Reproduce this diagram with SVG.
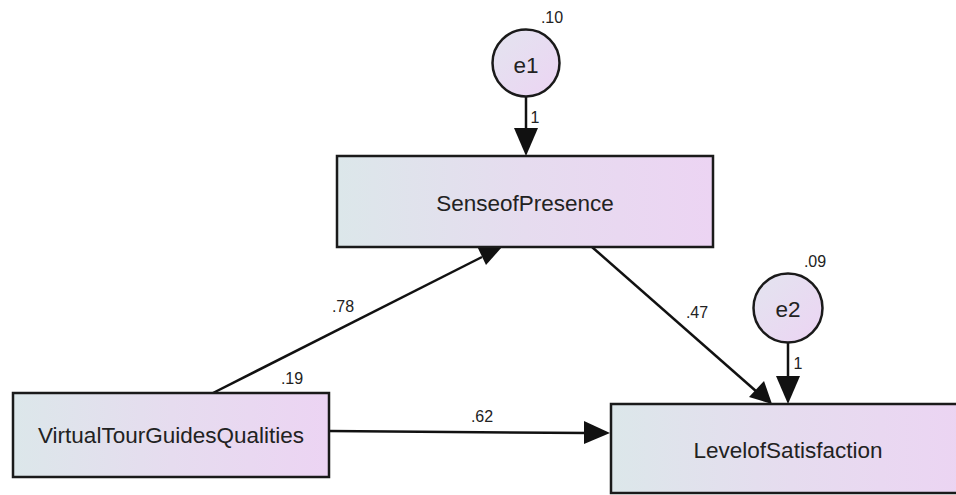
<svg xmlns="http://www.w3.org/2000/svg" width="956" height="495" viewBox="0 0 956 495">
<style>
.box{stroke:#1a1a1a;stroke-width:2.5}
.lbl{font-family:"Liberation Sans",Arial,sans-serif;font-size:22.5px;fill:#222;text-anchor:middle}
.num{font-family:"Liberation Sans",Arial,sans-serif;font-size:16px;fill:#222;text-anchor:middle}
.ln{stroke:#111;stroke-width:2.5;fill:none}
.hd{fill:#111}
</style>
<defs>
<linearGradient id="g" x1="0" y1="0" x2="1" y2="0">
<stop offset="0" stop-color="#dce7ea"/>
<stop offset="0.5" stop-color="#e6dcef"/>
<stop offset="1" stop-color="#ecd4f3"/>
</linearGradient>
<linearGradient id="gc" x1="0" y1="0" x2="1" y2="1">
<stop offset="0" stop-color="#e3e4ef"/>
<stop offset="1" stop-color="#ecd4f3"/>
</linearGradient>
</defs>
<g id="connectors">
<line class="ln" x1="526" y1="97" x2="526" y2="135"/>
<path class="hd" d="M514,128 L526,156 L538,128 z"/>
<line class="ln" x1="788" y1="343" x2="788" y2="382"/>
<path class="hd" d="M776,376 L788,404 L800,376 z"/>
<line class="ln" x1="213" y1="393" x2="482" y2="257"/>
<path class="hd" d="M476,244 L502,247 L486,265 z"/>
<line class="ln" x1="592" y1="247" x2="757" y2="392"/>
<path class="hd" d="M749,397 L772,404 L764,381 z"/>
<line class="ln" x1="329" y1="431" x2="588" y2="433"/>
<path class="hd" d="M584,421 L610,433 L584,444 z"/>
<text class="num" x="535" y="123">1</text>
<text class="num" x="798" y="369">1</text>
<text class="num" x="343" y="312">.78</text>
<text class="num" x="697" y="318">.47</text>
<text class="num" x="482" y="422">.62</text>
</g>
<g id="e1">
<circle cx="526" cy="63" r="33.5" fill="url(#gc)" class="box"/>
<text class="lbl" x="526" y="73">e1</text>
<text class="num" x="552" y="23">.10</text>
</g>
<g id="e2">
<circle cx="788" cy="308" r="34.5" fill="url(#gc)" class="box"/>
<text class="lbl" x="788" y="317">e2</text>
<text class="num" x="815" y="267">.09</text>
</g>
<g id="SenseofPresence">
<rect x="337" y="156" width="376" height="91" fill="url(#g)" class="box"/>
<text class="lbl" x="525" y="211">SenseofPresence</text>
</g>
<g id="VirtualTourGuidesQualities">
<rect x="13" y="393" width="316" height="84" fill="url(#g)" class="box"/>
<text class="lbl" x="171" y="443">VirtualTourGuidesQualities</text>
<text class="num" x="292" y="384">.19</text>
</g>
<g id="LevelofSatisfaction">
<rect x="611" y="404" width="360" height="89" fill="url(#g)" class="box"/>
<text class="lbl" x="788" y="458">LevelofSatisfaction</text>
</g>
</svg>
